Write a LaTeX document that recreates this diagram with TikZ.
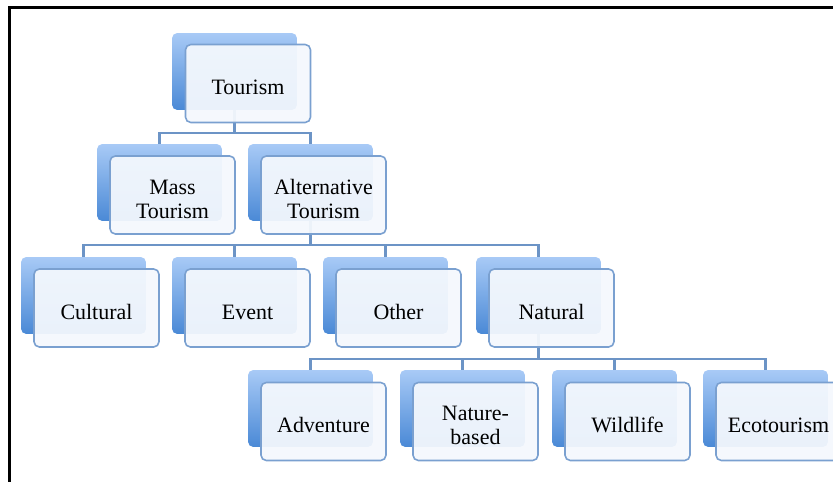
\documentclass[tikz,border=0pt]{standalone}
\usepackage{fontspec}
\setmainfont{Liberation Serif}
\definecolor{caixaTopo}{RGB}{168,202,246}
\definecolor{caixaBase}{RGB}{74,137,214}
\definecolor{caixaFrente}{RGB}{244,248,253}
\definecolor{caixaBorda}{RGB}{122,160,208}
\definecolor{ligacao}{RGB}{108,148,198}
\begin{document}
\begin{tikzpicture}[
  x=0.02cm, y=-0.02cm,
  every node/.style={font=\fontsize{12.5}{13.8}\selectfont},
  fundo/.style={rectangle, rounded corners=3pt, top color=caixaTopo, bottom color=caixaBase, draw=none, minimum width=2.5cm, minimum height=1.54cm, inner sep=0pt},
  frente/.style={rectangle, rounded corners=3pt, draw=caixaBorda, line width=0.9pt, fill=caixaFrente, fill opacity=0.94, text opacity=1, minimum width=2.5cm, minimum height=1.56cm, inner sep=1pt, align=center, text height=12.8pt, text depth=0pt},
  duas/.style={text height=26.6pt},
  ramo/.style={draw=ligacao, line width=1.2pt}
]
\useasboundingbox (0,0) rectangle (833,482);
\draw[line width=1.7pt] (9.5,482) -- (9.5,7.5) -- (833,7.5);
% caixas de fundo
\node[fundo] (tourB) at (234.5,71.5) {};
\node[fundo] (massB) at (159.5,182.5) {};
\node[fundo] (altB) at (310.5,182.5) {};
\node[fundo] (cultB) at (83.5,295.5) {};
\node[fundo] (evenB) at (234.5,295.5) {};
\node[fundo] (othB) at (385.5,295.5) {};
\node[fundo] (natB) at (538.5,295.5) {};
\node[fundo] (advB) at (310.5,408.5) {};
\node[fundo] (nbB) at (462.5,408.5) {};
\node[fundo] (wildB) at (614.5,408.5) {};
\node[fundo] (ecoB) at (765.5,408.5) {};
% ligacoes
\draw[ramo] (tourB.south) -- ++(0,23) -| (massB.north);
\draw[ramo] (tourB.south) -- ++(0,23) -| (altB.north);
\draw[ramo] (altB.south) -- ++(0,24) -| (cultB.north);
\draw[ramo] (altB.south) -- ++(0,24) -| (evenB.north);
\draw[ramo] (altB.south) -- ++(0,24) -| (othB.north);
\draw[ramo] (altB.south) -- ++(0,24) -| (natB.north);
\draw[ramo] (natB.south) -- ++(0,25) -| (advB.north);
\draw[ramo] (natB.south) -- ++(0,25) -| (nbB.north);
\draw[ramo] (natB.south) -- ++(0,25) -| (wildB.north);
\draw[ramo] (natB.south) -- ++(0,25) -| (ecoB.north);
% caixas da frente
\node[frente] (tour) at (248,83.5) {Tourism};
\node[frente, duas] (mass) at (172.5,195) {Mass\\Tourism};
\node[frente, duas] (alt) at (323.5,195) {Alternative\\Tourism};
\node[frente] (cult) at (96.5,308) {Cultural};
\node[frente] (even) at (247.5,308) {Event};
\node[frente] (oth) at (398.5,308) {Other};
\node[frente] (nat) at (551.5,308) {Natural};
\node[frente] (adv) at (323.5,421.5) {Adventure};
\node[frente, duas] (nb) at (475.5,421.5) {Nature-\\based};
\node[frente] (wild) at (627.5,421.5) {Wildlife};
\node[frente] (eco) at (778.5,421.5) {Ecotourism};
\end{tikzpicture}
\end{document}
